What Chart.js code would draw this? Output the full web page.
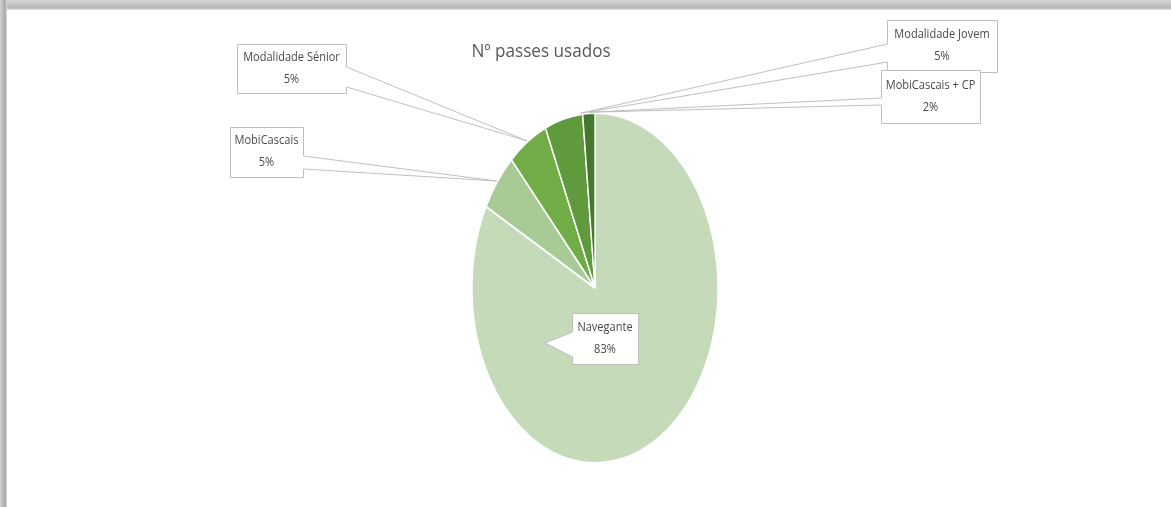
<!DOCTYPE html>
<html>
<head>
<meta charset="utf-8">
<script src="https://cdn.jsdelivr.net/npm/chart.js@4"></script>
<style>
  html, body { margin: 0; padding: 0; background: #fff; }
  #wrap { position: relative; width: 1171px; height: 507px; overflow: hidden; }
  #myChart { position: absolute; left: 0; top: 0; }
  .edgeTop { position: absolute; left: 0; top: 0; width: 1171px; height: 10px;
    background: linear-gradient(to bottom, #d6d6d6, #b5b5b5 80%, #e8e8e8); z-index: 2; }
  .edgeLeft { position: absolute; left: 0; top: 0; width: 7px; height: 507px;
    background: linear-gradient(to right, #d2d2d2, #a8a8a8 75%, #e6e6e6); z-index: 2; }
</style>
</head>
<body>
<div id="wrap">
  <canvas id="myChart" width="1171" height="507"></canvas>
  <div class="edgeTop"></div>
  <div class="edgeLeft"></div>
</div>
<script>
const categories = ['Navegante', 'MobiCascais', 'Modalidade Sénior', 'Modalidade Jovem', 'MobiCascais + CP'];
const shares = [82.7, 5.4, 5.3, 5.0, 1.6];
const sliceColours = ['#c4dab9', '#a8ca94', '#70ad47', '#5f9a3d', '#44782c'];
const chartTitle = 'Nº passes usados';

// the pie in the picture is squashed sideways
const squeezeX = 0.703;

// callout boxes (x, y, w, h), which side the wedge leaves from, and wedge base
const callouts = [
  { box: [572, 313, 66, 51], side: 'left', base: [332, 357], tip: [545, 343] },
  { box: [230, 127, 73, 50], side: 'right', base: [156, 169], tipFrac: 0.5 },
  { box: [237, 44, 109, 49], side: 'right', base: [67, 87], tipFrac: 0.5 },
  { box: [887, 20, 110, 52], side: 'left', base: [44, 62], tipFrac: 0.95 },
  { box: [881, 70, 99, 53], side: 'left', base: [98, 105], tipFrac: 0.5 }
];

const squeezePlugin = {
  id: 'squeeze',
  beforeDatasetsDraw(chart) {
    const arc = chart.getDatasetMeta(0).data[0];
    const ctx = chart.ctx;
    ctx.save();
    ctx.translate(arc.x, 0);
    ctx.scale(squeezeX, 1);
    ctx.translate(-arc.x, 0);
  },
  afterDatasetsDraw(chart) {
    chart.ctx.restore();
  }
};

const labelPlugin = {
  id: 'callouts',
  afterDraw(chart) {
    const ctx = chart.ctx;
    const meta = chart.getDatasetMeta(0);
    const vals = chart.data.datasets[0].data;
    const total = vals.reduce((a, b) => a + b, 0);

    // title
    ctx.save();
    ctx.font = '19px "Open Sans"';
    ctx.fillStyle = '#595959';
    ctx.textAlign = 'center';
    ctx.textBaseline = 'alphabetic';
    ctx.translate(541, 57);
    ctx.scale(0.9, 1);
    ctx.fillText(chartTitle, 0, 0);
    ctx.restore();

    callouts.forEach((c, i) => {
      const arc = meta.data[i];
      let tip = c.tip;
      if (!tip) {
        const a = arc.startAngle + c.tipFrac * (arc.endAngle - arc.startAngle);
        const r = arc.outerRadius + 1;
        tip = [arc.x + squeezeX * r * Math.cos(a), arc.y + r * Math.sin(a)];
      }
      const [x, y, w, h] = c.box;
      const x0 = x + 0.5, y0 = y + 0.5, x1 = x + w + 0.5, y1 = y + h + 0.5;
      ctx.save();
      ctx.beginPath();
      if (c.side === 'right') {
        ctx.moveTo(x0, y0);
        ctx.lineTo(x1, y0);
        ctx.lineTo(x1, c.base[0]);
        ctx.lineTo(tip[0], tip[1]);
        ctx.lineTo(x1, c.base[1]);
        ctx.lineTo(x1, y1);
        ctx.lineTo(x0, y1);
      } else {
        ctx.moveTo(x1, y0);
        ctx.lineTo(x1, y1);
        ctx.lineTo(x0, y1);
        ctx.lineTo(x0, c.base[1]);
        ctx.lineTo(tip[0], tip[1]);
        ctx.lineTo(x0, c.base[0]);
        ctx.lineTo(x0, y0);
      }
      ctx.closePath();
      ctx.fillStyle = '#ffffff';
      ctx.fill();
      ctx.strokeStyle = '#bfbfbf';
      ctx.lineWidth = 1;
      ctx.stroke();

      const pct = Math.round(vals[i] / total * 100) + '%';
      const cx = x + w / 2, cy = y + h / 2;
      ctx.font = '12px "Open Sans"';
      ctx.fillStyle = '#4a4a4a';
      ctx.textAlign = 'center';
      ctx.textBaseline = 'middle';
      ctx.translate(cx, cy);
      ctx.scale(0.92, 1);
      ctx.fillText(chart.data.labels[i], 0, -11);
      ctx.fillText(pct, 0, 11);
      ctx.restore();
    });
  }
};

const myChart = new Chart(document.getElementById('myChart'), {
  type: 'pie',
  data: {
    labels: categories,
    datasets: [{
      data: shares,
      backgroundColor: sliceColours,
      borderColor: '#ffffff',
      borderWidth: 2,
      hoverOffset: 0,
      radius: 175
    }]
  },
  options: {
    responsive: false,
    animation: false,
    layout: { padding: { left: 295, right: 276, top: 113, bottom: 44 } },
    plugins: {
      legend: { display: false },
      title: { display: false },
      tooltip: { enabled: false }
    }
  },
  plugins: [squeezePlugin, labelPlugin]
});
</script>
</body>
</html>
